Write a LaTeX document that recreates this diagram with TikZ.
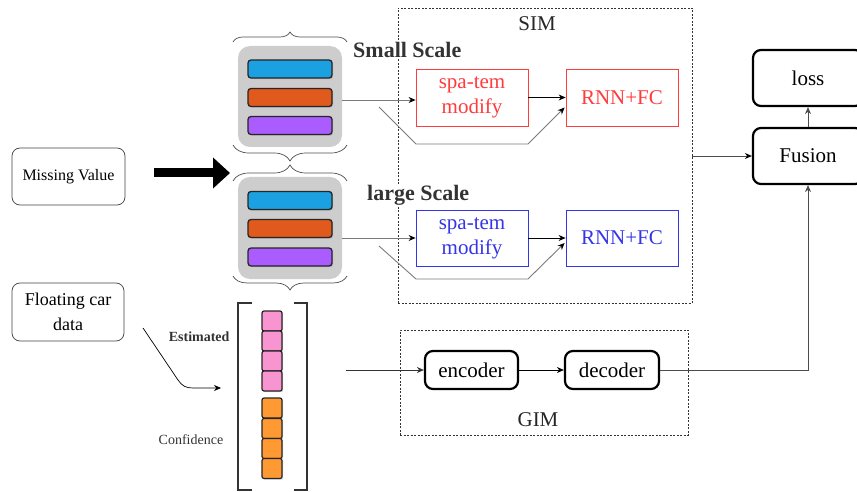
\documentclass[tikz,border=0pt]{standalone}
\usepackage{fontspec}
\setmainfont{Liberation Serif}
\usetikzlibrary{arrows.meta,decorations.pathreplacing,shadows,calc}
\definecolor{barblue}{HTML}{1BA1E2}
\definecolor{barorange}{HTML}{E05A1E}
\definecolor{barpurple}{HTML}{AA5CFF}
\definecolor{sqpink}{HTML}{F894D0}
\definecolor{sqorange}{HTML}{FF9933}
\definecolor{stackgray}{HTML}{CDCDCD}
\definecolor{redc}{HTML}{FF3B3B}
\definecolor{bluec}{HTML}{3434E8}
\definecolor{linegray}{HTML}{7A7A7A}
\tikzset{
  txt/.style={font=\fontsize{21}{25}\selectfont},
  inbox/.style={draw=black!75, rounded corners=8pt, line width=0.7pt, align=center},
  redbox/.style={draw=redc, line width=0.8pt, text=redc, txt, align=center, minimum width=112pt, minimum height=57pt, inner sep=0pt},
  bluebox/.style={draw=bluec, line width=0.8pt, text=bluec, txt, align=center, minimum width=112pt, minimum height=56pt, inner sep=0pt},
  thickbox/.style={draw=black, line width=2.2pt, rounded corners=8pt, txt, inner sep=0pt},
  dashbox/.style={draw=black!80, line width=0.7pt, dash pattern=on 2pt off 1.5pt, inner sep=0pt},
  stackbg/.style={fill=stackgray, rounded corners=12pt, minimum width=104pt, inner sep=0pt},
  bar/.style={draw=black!85, line width=1.3pt, rounded corners=3pt, minimum width=84pt, minimum height=18pt, inner sep=0pt,
    drop shadow={shadow xshift=1.2pt, shadow yshift=-1.2pt, opacity=0.35}},
  sq/.style={draw=black!85, line width=1.2pt, rounded corners=2pt, minimum width=20pt, minimum height=20pt, inner sep=0pt,
    drop shadow={shadow xshift=1.2pt, shadow yshift=-1.2pt, opacity=0.35}},
  arr/.style={line width=0.8pt, -{Stealth[length=7pt,width=6pt]}},
  grayarr/.style={draw=linegray, line width=0.9pt, -{Stealth[length=7pt,width=6pt,color=black]}},
  bracebig/.style={draw=black!70, line width=0.7pt, decorate},
  bracketline/.style={draw=black!80, line width=1.8pt},
}
\begin{document}
\begin{tikzpicture}[x=1pt,y=-1pt]
\useasboundingbox (0,0) rectangle (857,492);

% input boxes
\node[inbox, minimum width=113pt, minimum height=57pt, font=\fontsize{16}{19}\selectfont] (mv) at (68.5,176.5) {Missing Value};
\node[inbox, minimum width=112pt, minimum height=58pt, font=\fontsize{18}{25}\selectfont] (fcd) at (68,312) {Floating car\\data};

% big arrow
\coordinate (ba1) at (154,173);
\coordinate (ba2) at (230,173);
\draw[line width=9pt, -{Triangle[length=17pt,width=30pt]}] (ba1) -- (ba2);

% stacks
\node[stackbg, minimum height=101pt] (stS) at (290,96.5) {};
\node[bar, fill=barblue] (bS1) at (290,69) {};
\node[bar, fill=barorange] (bS2) at (290,97.5) {};
\node[bar, fill=barpurple] (bS3) at (290,125.5) {};

\node[stackbg, minimum height=102pt] (stL) at (290,228) {};
\node[bar, fill=barblue] (bL1) at (290,200.5) {};
\node[bar, fill=barorange] (bL2) at (290,228.5) {};
\node[bar, fill=barpurple] (bL3) at (290,257) {};

% braces
\draw[bracebig, decoration={brace, amplitude=10pt}] (233,42) -- (347,42);
\draw[bracebig, decoration={brace, amplitude=16pt}] (347,145) -- (233,145);
\draw[bracebig, decoration={brace, amplitude=16pt}] (233,181) -- (347,181);
\draw[bracebig, decoration={brace, amplitude=14pt}] (347,276) -- (233,276);

% bracket with squares
\draw[bracketline] (252,303) -- (238,303) -- (238,490) -- (252,490);
\draw[bracketline] (294,303) -- (307,303) -- (307,490) -- (294,490);
\foreach \i/\y in {1/321, 2/341, 3/361, 4/381} {
  \node[sq, fill=sqpink] (p\i) at (272,\y) {};
}
\foreach \i/\y in {1/408, 2/428.5, 3/448.5, 4/468.5} {
  \node[sq, fill=sqorange] (o\i) at (272,\y) {};
}
\node[anchor=east, font=\bfseries\fontsize{14}{16}\selectfont, text=black!80] (est) at (233,337) {Estimated};
\node[font=\fontsize{14}{16}\selectfont, text=black!80] (conf) at (191,440) {Confidence};

% curve from floating car data
\coordinate (c1) at (143,328);
\coordinate (c2) at (221,388);
\draw[line width=0.7pt, -{Stealth[length=7pt,width=6pt]}] (c1) -- (178,380) .. controls (182,386) and (186,388) .. (193,388) -- (c2);

% SIM
\node[dashbox, minimum width=294pt, minimum height=295pt] (sim) at (545,155.5) {};
\node[txt, text=black!85] (simt) at (537,24) {SIM};
\node[anchor=west, font=\bfseries\fontsize{22}{25}\selectfont, text=black!80, fill=white, inner sep=1pt] (ss) at (352,50) {Small Scale};
\node[anchor=west, font=\bfseries\fontsize{22}{25}\selectfont, text=black!80, fill=white, inner sep=1pt] (ls) at (366,195) {large Scale};

\node[redbox] (spaS) at (472,97.5) {spa-tem\\modify};
\node[redbox] (rnnS) at (622,97.5) {RNN+FC};
\node[bluebox] (spaL) at (472,238) {spa-tem\\modify};
\node[bluebox] (rnnL) at (622,238) {RNN+FC};

\draw[grayarr] (stS.east |- 0,100) -- (spaS.west |- 0,100);
\draw[arr] (spaS.east) -- (rnnS.west);
\coordinate (bpS) at (379,107);
\draw[grayarr] (bpS) -- (416,144) -- (528,144) -- ($(rnnS.west)+(-1,10)$);

\draw[grayarr] (stL.east |- spaL.west) -- (spaL.west);
\draw[arr] (spaL.east) -- (rnnL.west);
\coordinate (bpL) at (379,246);
\draw[grayarr] (bpL) -- (416,279) -- (528,279) -- ($(rnnL.west)+(-1,5)$);

% Fusion and loss
\node[thickbox, minimum width=110pt, minimum height=56pt] (fusion) at (808,156) {Fusion};
\node[thickbox, minimum width=110pt, minimum height=56pt] (loss) at (808,78) {loss};
\draw[grayarr, draw=black!70] (sim.east |- fusion.west) -- (fusion.west);
\draw[arr, draw=black!70] (fusion.north) -- (loss.south);

% GIM
\node[dashbox, minimum width=288pt, minimum height=105pt] (gim) at (544,382.5) {};
\node[txt, text=black!85] (gimt) at (538,420) {GIM};
\node[thickbox, minimum width=93pt, minimum height=38pt] (enc) at (471.5,370) {encoder};
\node[thickbox, minimum width=94pt, minimum height=38pt] (dec) at (612,370) {decoder};
\coordinate (gin) at (346,370);
\draw[arr, draw=black!80] (gin) -- (enc.west);
\draw[arr] (enc.east) -- (dec.west);
\draw[arr, draw=black!70] (dec.east) -| (fusion.south);
\end{tikzpicture}
\end{document}
